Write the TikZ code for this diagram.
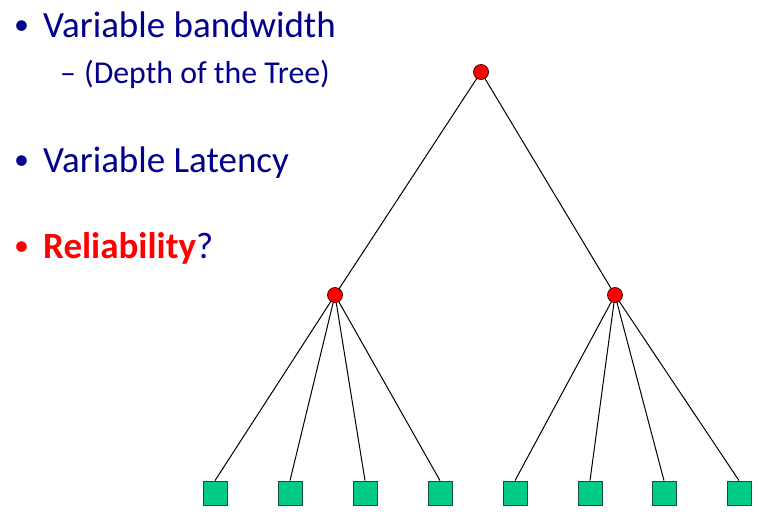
\documentclass[tikz,border=0pt]{standalone}
\usepackage{fontspec}
\setmainfont{Carlito}
\definecolor{navy}{RGB}{0,0,140}
\definecolor{leafgreen}{RGB}{0,204,136}
\definecolor{leafedge}{RGB}{20,80,60}
\definecolor{nodered}{RGB}{255,0,0}
\begin{document}
\begin{tikzpicture}[x=1pt,y=-1pt,
  inner/.style={circle,draw=black!70!red,fill=nodered,line width=0.8pt,minimum size=15pt,inner sep=0pt},
  leaf/.style={rectangle,draw=leafedge,fill=leafgreen,line width=0.8pt,minimum size=24pt,inner sep=0pt},
  link/.style={draw=black,line width=1pt},
  bigtext/.style={anchor=base west,inner sep=0pt,font=\fontsize{37}{40}\selectfont,text=navy},
  bullettext/.style={anchor=base west,inner sep=0pt,font=\fontsize{30}{34}\selectfont,text=navy},
  subtext/.style={anchor=base west,inner sep=0pt,font=\fontsize{31.8}{34}\selectfont,text=navy}]
\useasboundingbox (0,0) rectangle (759,515);
% text
\node[bullettext] (b1dot) at (14,34) {•};
\node[bigtext] (b1) at (43,37) {Variable bandwidth};
\node[subtext] (s1dash) at (60,83) {–};
\node[subtext] (s1) at (84,83) {(Depth of the Tree)};
\node[bullettext] (b2dot) at (14,169) {•};
\node[bigtext] (b2) at (43,172) {Variable Latency};
\node[bullettext,text=nodered] (b3dot) at (14,255) {•};
\node[bigtext] (b3) at (43,258) {\textcolor{nodered}{\textbf{Reliability}}?};
% tree
\node[leaf] (l1) at (215,493) {};
\node[leaf] (l2) at (290,493) {};
\node[leaf] (l3) at (365,493) {};
\node[leaf] (l4) at (440,493) {};
\node[leaf] (l5) at (515,493) {};
\node[leaf] (l6) at (590,493) {};
\node[leaf] (l7) at (664,493) {};
\node[leaf] (l8) at (739,493) {};
\coordinate (c1) at (481,72);
\coordinate (c2) at (335,295);
\coordinate (c3) at (615,295);
\draw[link] (c1) -- (c2);
\draw[link] (c1) -- (c3);
\foreach \i in {1,2,3,4}{\draw[link] (c2) -- (l\i.north);}
\foreach \i in {5,6,7,8}{\draw[link] (c3) -- (l\i.north);}
\node[inner] (root) at (c1) {};
\node[inner] (left) at (c2) {};
\node[inner] (right) at (c3) {};
\end{tikzpicture}
\end{document}
